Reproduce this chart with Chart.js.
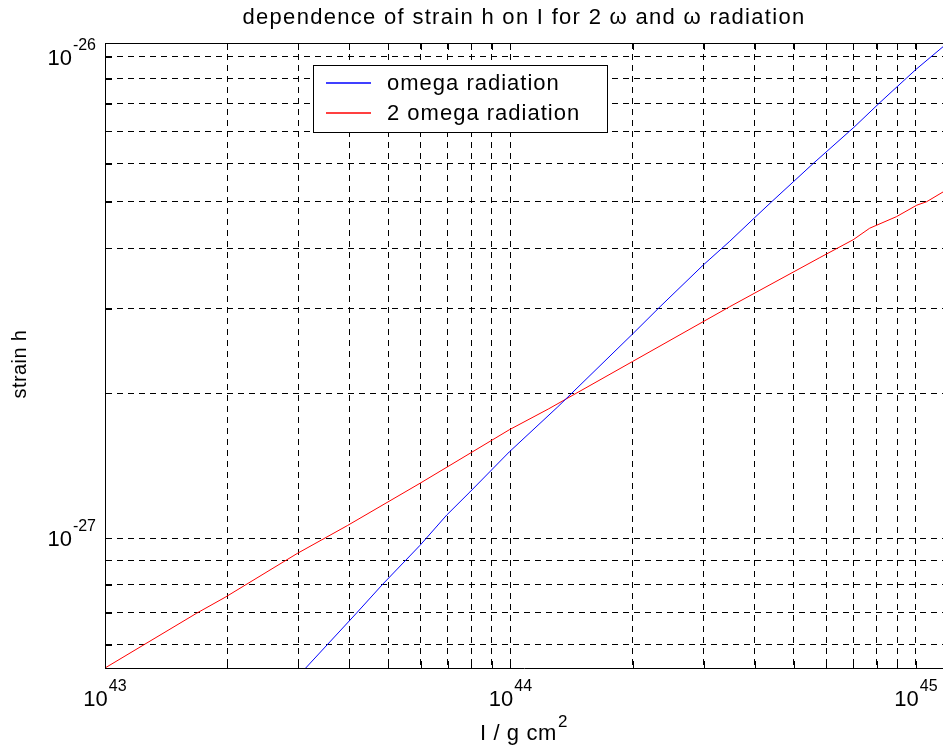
<!DOCTYPE html>
<html>
<head>
<meta charset="utf-8">
<script src="https://cdn.jsdelivr.net/npm/chart.js@4/dist/chart.umd.min.js"></script>
<style>
html,body{margin:0;padding:0;background:#fff;overflow:hidden}
#wrap{width:943px;height:753px;position:relative}
</style>
</head>
<body>
<div id="wrap"><canvas id="c" width="943" height="753"></canvas></div>
<script>
// ---------- text ----------
const titleText = 'dependence of strain h on I for 2 \u03c9 and \u03c9 radiation';
const xAxisLabel = 'I / g cm';
const xAxisLabelSup = '2';
const yAxisLabel = 'strain h';
const seriesNames = ['omega radiation', '2 omega radiation'];

// ---------- data ----------
// omega radiation (blue)
const omegaI = [3.126e43, 4.169e43, 4.842e43, 5.984e43, 6.966e43, 7.943e43, 9.93e43, 1.309e44,
                2.000e44, 2.339e44, 2.992e44, 3.475e44, 3.990e44, 4.406e44, 5.585e44, 7.03e44,
                8.15e44, 9.48e44, 1.000e45, 1.166e45];
const omegaH = [5.37e-28, 6.98e-28, 8.02e-28, 9.66e-28, 1.117e-27, 1.247e-27, 1.510e-27, 1.875e-27,
                2.655e-27, 3.027e-27, 3.698e-27, 4.140e-27, 4.624e-27, 5.00e-27, 6.01e-27, 7.14e-27,
                8.04e-27, 9.04e-27, 9.42e-27, 1.050e-26];
// 2 omega radiation (red)
const twoOmegaI = [1.000e43, 1.683e43, 1.977e43, 2.979e43, 3.963e43, 5.984e43, 9.93e43, 1.239e44,
                   2.000e44, 3.475e44, 5.794e44, 7.00e44, 7.69e44, 8.95e44, 1.005e45, 1.062e45, 1.166e45];
const twoOmegaH = [5.37e-28, 6.98e-28, 7.53e-28, 9.29e-28, 1.062e-27, 1.300e-27, 1.679e-27, 1.854e-27,
                   2.328e-27, 3.027e-27, 3.828e-27, 4.169e-27, 4.406e-27, 4.656e-27, 4.920e-27, 5.00e-27, 5.24e-27];

// ---------- axes ----------
const xRange = [1e43, 1.166e45];
const yRange = [5.37e-28, 1.069e-26];
const xMajorTicks = [1e43, 1e44, 1e45];
const xTickExponents = ['43', '44', '45'];
const yMajorTicks = [1e-27, 1e-26];
const yTickExponents = ['-27', '-26'];
const decadeMultipliers = [1, 2, 3, 4, 5, 6, 7, 8, 9];

function logGrid(min, max) {
  const out = [];
  const e0 = Math.floor(Math.log10(min)) - 1, e1 = Math.ceil(Math.log10(max)) + 1;
  for (let e = e0; e <= e1; e++) {
    for (const m of decadeMultipliers) {
      const v = Number((m * Math.pow(10, e)).toPrecision(4));
      if (v >= min * 0.9999 && v <= max * 1.0001) out.push(v);
    }
  }
  return out;
}
const xGridValues = logGrid(xRange[0], xRange[1]);
const yGridValues = logGrid(yRange[0], yRange[1]);

const toPoints = (xs, ys) => xs.map((v, i) => ({x: v, y: ys[i]}));

const FONT = 'Liberation Sans, Arial, Helvetica, sans-serif';

function drawPow(ctx, base, exp, anchorX, baseline, align) {
  ctx.font = '22px ' + FONT;
  const wb = ctx.measureText(base).width;
  ctx.font = '16px ' + FONT;
  const we = ctx.measureText(exp).width;
  const gap = 1;
  const total = wb + gap + we;
  let x0 = align === 'center' ? anchorX - total / 2 : anchorX - total;
  ctx.textAlign = 'left';
  ctx.textBaseline = 'alphabetic';
  ctx.font = '22px ' + FONT;
  ctx.fillText(base, x0, baseline);
  ctx.font = '16px ' + FONT;
  ctx.fillText(exp, x0 + wb + gap, baseline - 15);
}

const decor = {
  id: 'decor',
  afterDraw(chart) {
    const {ctx, chartArea: a, scales: {x, y}} = chart;
    ctx.save();
    ctx.setLineDash([]);
    ctx.strokeStyle = '#000';
    ctx.lineWidth = 1;
    const px = v => Math.round(v) + 0.5;
    // top border
    ctx.beginPath();
    ctx.moveTo(Math.round(a.left), px(a.top));
    ctx.lineTo(a.right, px(a.top));
    ctx.stroke();
    // inside tick marks
    const tl = 7;
    ctx.beginPath();
    for (const v of xGridValues) {
      const p = px(x.getPixelForValue(v));
      ctx.moveTo(p, a.bottom); ctx.lineTo(p, a.bottom - tl);
      ctx.moveTo(p, a.top); ctx.lineTo(p, a.top + tl);
    }
    for (const v of yGridValues) {
      const p = px(y.getPixelForValue(v));
      ctx.moveTo(a.left, p); ctx.lineTo(a.left + tl, p);
    }
    ctx.stroke();

    ctx.fillStyle = '#000';
    const cx = (a.left + a.right) / 2;

    // title, centred over the axes
    ctx.font = '22px ' + FONT;
    ctx.letterSpacing = '1.3px';
    ctx.textAlign = 'center';
    ctx.textBaseline = 'alphabetic';
    ctx.fillText(titleText, cx, 24);
    ctx.letterSpacing = '0px';

    // tick labels
    xMajorTicks.forEach((v, i) => {
      drawPow(ctx, '10', xTickExponents[i], x.getPixelForValue(v), 706, 'center');
    });
    yMajorTicks.forEach((v, i) => {
      drawPow(ctx, '10', yTickExponents[i], 96, y.getPixelForValue(v) + 8, 'right');
    });

    // x axis label with superscript
    ctx.font = '22px ' + FONT;
    ctx.letterSpacing = '0.6px';
    const wl = ctx.measureText(xAxisLabel).width;
    ctx.font = '17px ' + FONT;
    const ws = ctx.measureText(xAxisLabelSup).width;
    const sx = cx - (wl + 1 + ws) / 2;
    ctx.textAlign = 'left';
    ctx.font = '22px ' + FONT;
    ctx.fillText(xAxisLabel, sx, 740);
    ctx.font = '17px ' + FONT;
    ctx.fillText(xAxisLabelSup, sx + wl + 1, 727);
    ctx.letterSpacing = '0px';

    // y axis label
    ctx.save();
    ctx.translate(20, 364);
    ctx.rotate(-Math.PI / 2);
    ctx.textAlign = 'center';
    ctx.textBaseline = 'middle';
    ctx.font = '20px ' + FONT;
    ctx.letterSpacing = '0.4px';
    ctx.fillText(yAxisLabel, 0, 0);
    ctx.restore();

    // legend box inside the plot
    const L = {x0: 313, y0: 65, x1: 607, y1: 132};
    ctx.fillStyle = '#fff';
    ctx.fillRect(L.x0, L.y0, L.x1 - L.x0, L.y1 - L.y0);
    ctx.strokeStyle = '#000';
    ctx.strokeRect(L.x0 + 0.5, L.y0 + 0.5, L.x1 - L.x0, L.y1 - L.y0);
    const rows = [83, 113];
    chart.data.datasets.forEach((ds, i) => {
      ctx.strokeStyle = ds.borderColor;
      ctx.lineWidth = 1.3;
      ctx.beginPath();
      ctx.moveTo(326, rows[i]);
      ctx.lineTo(371, rows[i]);
      ctx.stroke();
      ctx.lineWidth = 1;
      ctx.fillStyle = '#000';
      ctx.font = '22px ' + FONT;
      ctx.letterSpacing = '1px';
      ctx.textAlign = 'left';
      ctx.textBaseline = 'middle';
      ctx.fillText(ds.label, 387, rows[i] + 1);
      ctx.letterSpacing = '0px';
    });
    ctx.restore();
  }
};

new Chart(document.getElementById('c'), {
  type: 'scatter',
  data: {
    datasets: [
      {label: seriesNames[0], data: toPoints(omegaI, omegaH), showLine: true,
       borderColor: '#0000ff', backgroundColor: '#0000ff', borderWidth: 1, pointRadius: 0, tension: 0},
      {label: seriesNames[1], data: toPoints(twoOmegaI, twoOmegaH), showLine: true,
       borderColor: '#ff0000', backgroundColor: '#ff0000', borderWidth: 1, pointRadius: 0, tension: 0}
    ]
  },
  options: {
    responsive: false,
    animation: false,
    devicePixelRatio: 1,
    layout: {padding: {top: 43, left: 0, right: 0, bottom: 0}},
    plugins: {
      legend: {display: false},
      tooltip: {enabled: false},
      title: {display: false, text: titleText}
    },
    scales: {
      x: {
        type: 'logarithmic',
        min: xRange[0],
        max: xRange[1],
        afterBuildTicks: s => { s.ticks = xGridValues.map(v => ({value: v})); },
        afterFit: s => { s.height = 85; },
        ticks: {display: false, autoSkip: false},
        grid: {color: '#000', lineWidth: 1, drawTicks: false},
        border: {display: true, color: '#000', width: 1, dash: [6, 5]}
      },
      y: {
        type: 'logarithmic',
        min: yRange[0],
        max: yRange[1],
        afterBuildTicks: s => { s.ticks = yGridValues.map(v => ({value: v})); },
        afterFit: s => { s.width = 105; },
        ticks: {display: false, autoSkip: false},
        grid: {color: '#000', lineWidth: 1, drawTicks: false},
        border: {display: true, color: '#000', width: 1, dash: [6, 5]}
      }
    }
  },
  plugins: [decor]
});
</script>
</body>
</html>
